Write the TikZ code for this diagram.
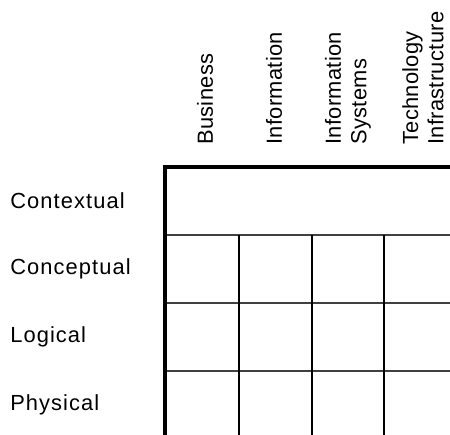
\documentclass[tikz,border=0pt]{standalone}
\usepackage{fontspec}
\setmainfont{Liberation Sans}[LetterSpace=5]

\begin{document}
\begin{tikzpicture}[x=0.75pt,y=-0.75pt]
      \tikzset{
        every node/.style={inner sep=0pt,font=\fontsize{16.4pt}{19pt}\selectfont},
        rowlabel/.style={anchor=west},
        collabel/.style={anchor=west,rotate=90,align=left,
          font=\fontsize{16.4pt}{19pt}\selectfont\addfontfeatures{LetterSpace=1.5}},
        frame/.style={line width=3pt,black},
        cell/.style={line width=1.1pt,black!75}
      }
      \useasboundingbox (0,0) rectangle (450,435);

      % row labels
      \node[rowlabel] (ctx) at (10,201) {Contextual};
      \node[rowlabel] (cpt) at (10,269) {Conceptual};
      \node[rowlabel] (lgc) at (10,337) {Logical};
      \node[rowlabel] (phy) at (10,405) {Physical};

      % column labels
      \node[collabel] (bus) at (205,145) {Business};
      \node[collabel] (inf) at (274,145) {Information};
      \node[collabel] (ins) at (348,145) {Information\\Systems};
      \node[collabel] (tec) at (423,145) {Technology\\Infrastructure};

      % grid
      \draw[cell] (165,235) -- (450,235)
                  (165,303) -- (450,303)
                  (165,371) -- (450,371);
      \draw[cell,black] (239,235) -- (239,435)
                  (312,235) -- (312,435)
                  (384,235) -- (384,435);
      \draw[frame] (450,167) -- (165,167) -- (165,435);
    \end{tikzpicture}
\end{document}
